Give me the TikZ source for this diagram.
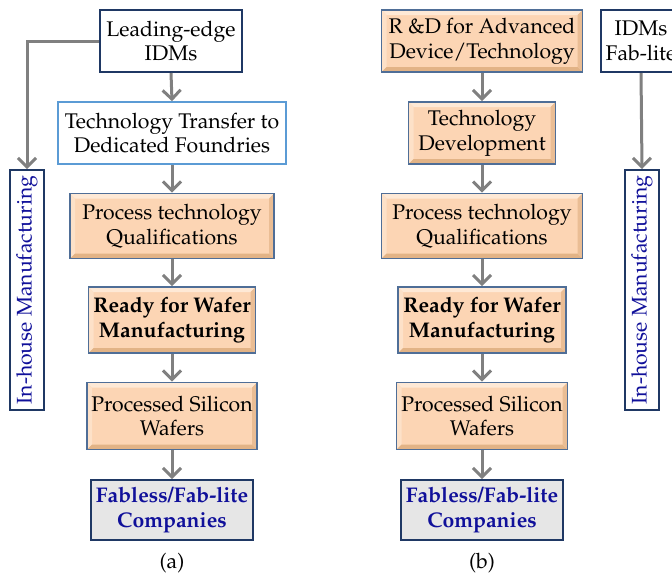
\documentclass[tikz,border=0pt]{standalone}
\usepackage{mathpazo}
\usepackage[T1]{fontenc}
\usetikzlibrary{arrows.meta}

\definecolor{navy}{HTML}{1F3864}
\definecolor{navytext}{HTML}{10109A}
\definecolor{skyline}{HTML}{5B9BD5}
\definecolor{peach}{HTML}{FCD5B4}
\definecolor{peachlight}{HTML}{FEE9D6}
\definecolor{peachdark}{HTML}{E2B386}
\definecolor{bevelline}{HTML}{4F6E97}
\definecolor{flowgray}{HTML}{808080}
\definecolor{boxgray}{HTML}{E6E6E6}

\newcommand{\boxfont}{\fontsize{10.6}{12.4}\selectfont}

\begin{document}
\begin{tikzpicture}[x=0.5pt,y=-0.5pt,
   every node/.style={font=\boxfont},
   plain/.style={draw=navy,line width=1pt,fill=white,align=center,inner sep=0pt},
   transfer/.style={draw=skyline,line width=0.8pt,fill=white,align=center,inner sep=0pt},
   bevel/.style={draw=bevelline,line width=0.9pt,fill=peach,align=center,inner sep=0pt,
     path picture={
       \fill[peachlight] (path picture bounding box.north west) -- (path picture bounding box.north east)
         -- ([shift={(-2.5pt,-2.5pt)}]path picture bounding box.north east)
         -- ([shift={(2.5pt,-2.5pt)}]path picture bounding box.north west) -- cycle;
       \fill[peachlight!60!peach] (path picture bounding box.north west) -- (path picture bounding box.south west)
         -- ([shift={(2.5pt,2.5pt)}]path picture bounding box.south west)
         -- ([shift={(2.5pt,-2.5pt)}]path picture bounding box.north west) -- cycle;
       \fill[peachdark] (path picture bounding box.south west) -- (path picture bounding box.south east)
         -- ([shift={(-2.5pt,2.5pt)}]path picture bounding box.south east)
         -- ([shift={(2.5pt,2.5pt)}]path picture bounding box.south west) -- cycle;
       \fill[peachdark!70!peach] (path picture bounding box.north east) -- (path picture bounding box.south east)
         -- ([shift={(-2.5pt,2.5pt)}]path picture bounding box.south east)
         -- ([shift={(-2.5pt,-2.5pt)}]path picture bounding box.north east) -- cycle;
     }},
   fabless/.style={draw=navy,line width=1pt,fill=boxgray,align=center,inner sep=0pt,
     text=navytext,font=\boxfont\bfseries},
   inhouse/.style={draw=navy,line width=1pt,fill=white,inner sep=0pt,rotate=90,
     text=navytext,minimum width=120pt,minimum height=17pt},
   flow/.style={draw=flowgray,line width=1.5pt,-{Straight Barb[length=4.5pt,width=9pt,line width=1.5pt]}}]
   \useasboundingbox (0,0) rectangle (672,574);
   \clip (0,0) rectangle (672,574);

   % (a) transfer to dedicated foundries
   \node [plain,minimum width=71pt,minimum height=31pt] (leadA) at (171,41) {Leading-edge\\IDMs};
   \node [transfer,minimum width=114pt,minimum height=31pt] (ttA) at (172,133) {Technology Transfer to\\Dedicated Foundries};
   \node [bevel,minimum width=102pt,minimum height=32.5pt] (qualA) at (172,226) {Process technology\\Qualifications};
   \node [bevel,minimum width=83.5pt,minimum height=33pt,font=\boxfont\bfseries] (readyA) at (172,320) {Ready for Wafer\\Manufacturing};
   \node [bevel,minimum width=85pt,minimum height=33.5pt] (waferA) at (172,416) {Processed Silicon\\Wafers};
   \node [fabless,minimum width=81pt,minimum height=30pt] (fabA) at (172,510) {Fabless/Fab-lite\\Companies};
   \node [inhouse] (inA) at (27,290) {In-house Manufacturing};
   \node (capA) at (172,563) {(a)};

   \draw [flow] (leadA.south) -- (ttA.north);
   \draw [flow] (ttA.south) -- (qualA.north);
   \draw [flow] (qualA.south) -- (readyA.north);
   \draw [flow] (readyA.south) -- (waferA.north);
   \draw [flow] (waferA.south) -- (fabA.north);
   \draw [flow] (leadA.west) -| (inA.east);

   % (b) own development
   \node [bevel,minimum width=100.5pt,minimum height=31pt] (rdB) at (482,41) {R \&D for Advanced\\Device/Technology};
   \node [bevel,minimum width=73.5pt,minimum height=31pt] (devB) at (482,133) {Technology\\Development};
   \node [bevel,minimum width=100.5pt,minimum height=32.5pt] (qualB) at (482,226) {Process technology\\Qualifications};
   \node [bevel,minimum width=84pt,minimum height=33pt,font=\boxfont\bfseries] (readyB) at (482,320) {Ready for Wafer\\Manufacturing};
   \node [bevel,minimum width=85.5pt,minimum height=33.5pt] (waferB) at (482,416) {Processed Silicon\\Wafers};
   \node [fabless,minimum width=81pt,minimum height=30pt] (fabB) at (482,510) {Fabless/Fab-lite\\Companies};
   \node (capB) at (482,563) {(b)};

   \draw [flow] (rdB.south) -- (devB.north);
   \draw [flow] (devB.south) -- (qualB.north);
   \draw [flow] (qualB.south) -- (readyB.north);
   \draw [flow] (readyB.south) -- (waferB.north);
   \draw [flow] (waferB.south) -- (fabB.north);

   % (c) partly cut off at the right
   \node [plain,minimum width=40pt,minimum height=31pt] (idmC) at (641,41) {IDMs\\Fab-lite};
   \node [inhouse] (inC) at (642,290) {In-house Manufacturing};
   \draw [flow] (idmC.south) -- (inC.east);
\end{tikzpicture}
\end{document}
